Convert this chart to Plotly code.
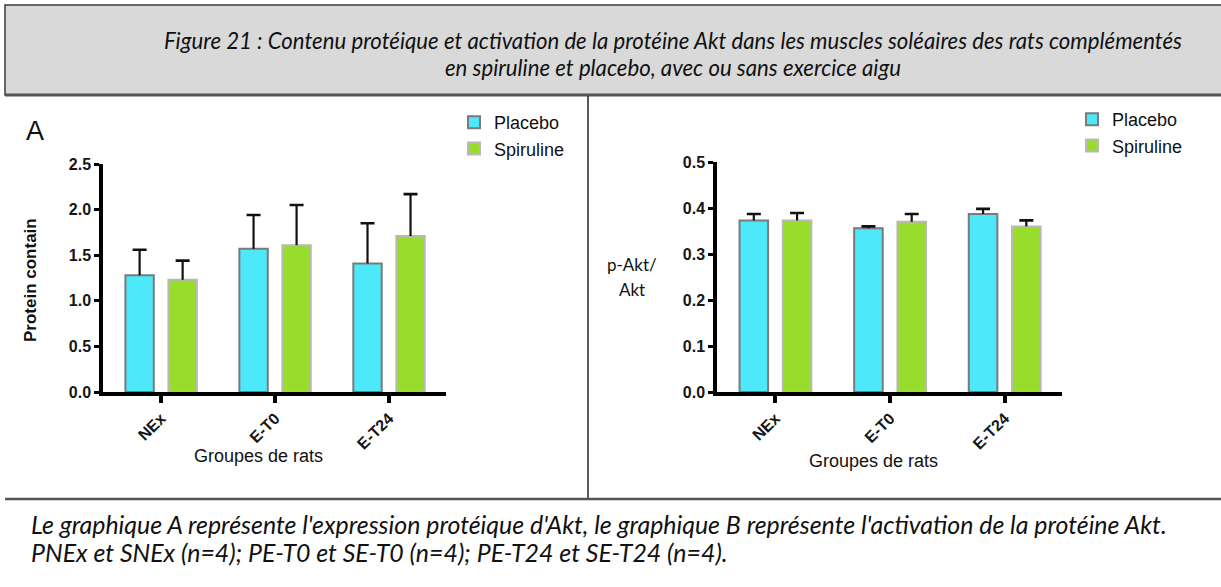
import plotly.graph_objects as go

W, H = 1221, 587

groups = ["NEx", "E-T0", "E-T24"]
series = ["Placebo", "Spiruline"]

# Graph A: Akt protein content
a_placebo = [1.28, 1.57, 1.41]
a_placebo_err = [0.28, 0.37, 0.44]
a_spiruline = [1.23, 1.61, 1.71]
a_spiruline_err = [0.21, 0.44, 0.46]

# Graph B: p-Akt / Akt
b_placebo = [0.373, 0.356, 0.387]
b_placebo_err = [0.014, 0.004, 0.011]
b_spiruline = [0.373, 0.370, 0.360]
b_spiruline_err = [0.016, 0.017, 0.013]

a_ticks = [0.0, 0.5, 1.0, 1.5, 2.0, 2.5]
b_ticks = [0.0, 0.1, 0.2, 0.3, 0.4, 0.5]

title_lines = [
    "Figure 21 : Contenu protéique et activation de la protéine Akt dans les muscles soléaires des rats complémentés",
    "en spiruline et placebo, avec ou sans exercice aigu",
]
caption_lines = [
    "Le graphique A représente l'expression protéique d'Akt, le graphique B représente l'activation de la protéine Akt.",
    "PNEx et SNEx (n=4); PE-T0 et SE-T0 (n=4); PE-T24 et SE-T24 (n=4).",
]

CYAN = "#4de9fb"
GREEN = "#98dc2c"
CYAN_LINE = "#7a7a7a"
GREEN_LINE = "#b8b8b8"
SANS = "Liberation Sans, Arial, sans-serif"
HUM = "Lato, Open Sans, sans-serif"


def px(x):
    return x / W


def py(y):
    return 1 - y / H


fig = go.Figure()


def add_bars(vals, errs, name, color, lcolor, xa, ya, legend, group):
    # main bar with the error stem (no caps)
    fig.add_trace(go.Bar(
        x=groups, y=vals, name=name, xaxis=xa, yaxis=ya, legend=legend,
        offsetgroup=group,
        marker=dict(color=color, line=dict(color=lcolor, width=2)),
        error_y=dict(type="data", symmetric=False, array=errs,
                     arrayminus=[0] * len(errs), color="#111111",
                     thickness=2.2, width=0),
    ))
    # invisible companion bar carrying only the top cap of the error bar
    tops = [v + e for v, e in zip(vals, errs)]
    fig.add_trace(go.Bar(
        x=groups, y=tops, name=name, xaxis=xa, yaxis=ya, legend=legend,
        offsetgroup=group, showlegend=False, hoverinfo="skip",
        marker=dict(color="rgba(0,0,0,0)", line=dict(width=0)),
        error_y=dict(type="data", symmetric=False, array=[0] * len(errs),
                     arrayminus=[0] * len(errs), color="#111111",
                     thickness=2.6, width=7),
    ))


add_bars(a_placebo, a_placebo_err, series[0], CYAN, CYAN_LINE, "x", "y", "legend", "pa")
add_bars(a_spiruline, a_spiruline_err, series[1], GREEN, GREEN_LINE, "x", "y", "legend", "sa")
add_bars(b_placebo, b_placebo_err, series[0], CYAN, CYAN_LINE, "x2", "y2", "legend2", "pb")
add_bars(b_spiruline, b_spiruline_err, series[1], GREEN, GREEN_LINE, "x2", "y2", "legend2", "sb")

tickfont = dict(family=SANS, size=16, color="#161616", weight="bold")

xcommon = dict(type="category", range=[-0.51, 2.5], showline=True, linecolor="#000",
               linewidth=3.5, ticks="outside", ticklen=7, tickwidth=3.5,
               tickcolor="#000", tickangle=-45, tickfont=tickfont, automargin=False,
               showgrid=False, zeroline=False, fixedrange=True)
ycommon = dict(showline=True, linecolor="#000", linewidth=3.5, ticks="outside",
               ticklen=5, tickwidth=3, tickcolor="#000", tickfont=tickfont,
               automargin=False, showgrid=False, zeroline=False, tickformat=".1f",
               fixedrange=True)

fig.update_layout(
    width=W, height=H, margin=dict(l=0, r=0, t=0, b=0, autoexpand=False),
    paper_bgcolor="white", plot_bgcolor="rgba(0,0,0,0)",
    barmode="group", bargap=0.245, bargroupgap=0.34,
    xaxis=dict(domain=[px(103), px(446)], anchor="y", **xcommon),
    yaxis=dict(domain=[py(392), py(164)], anchor="x", range=[0, 2.5],
               tickvals=a_ticks, **ycommon),
    xaxis2=dict(domain=[px(717), px(1062)], anchor="y2", **xcommon),
    yaxis2=dict(domain=[py(392), py(162)], anchor="x2", range=[0, 0.5],
                tickvals=b_ticks, **ycommon),
    legend=dict(x=px(454), y=py(104), xanchor="left", yanchor="top",
                font=dict(family=SANS, size=18, color="#111"),
                bgcolor="rgba(0,0,0,0)", tracegroupgap=4),
    legend2=dict(x=px(1072), y=py(101), xanchor="left", yanchor="top",
                 font=dict(family=SANS, size=18, color="#111"),
                 bgcolor="rgba(0,0,0,0)", tracegroupgap=4),
    showlegend=True,
)

shapes = [
    # title box
    dict(type="rect", xref="paper", yref="paper", x0=px(5), x1=px(1230), y0=py(95), y1=py(5),
         fillcolor="#d9d9d9", line=dict(color="#3a3a3a", width=1.5), layer="below"),
    dict(type="line", xref="paper", yref="paper", x0=px(5), x1=px(1221), y0=py(95), y1=py(95),
         line=dict(color="#555555", width=3)),
    # vertical separator
    dict(type="line", xref="paper", yref="paper", x0=px(588), x1=px(588), y0=py(96), y1=py(499),
         line=dict(color="#222222", width=1.5)),
    # horizontal separator
    dict(type="line", xref="paper", yref="paper", x0=px(5), x1=px(1221), y0=py(499), y1=py(499),
         line=dict(color="#555555", width=2.5)),
]
fig.update_layout(shapes=shapes)

ann = []
for i, line in enumerate(title_lines):
    ann.append(dict(text="<i>" + line + "</i>", x=px(673), y=py([41, 68][i]), xref="paper",
                    yref="paper", xanchor="center", yanchor="middle", showarrow=False,
                    font=dict(family=HUM, size=22.2, color="#111")))
for i, line in enumerate(caption_lines):
    ann.append(dict(text="<i>" + line + "</i>", x=px(29), y=py([524, 552][i]), xref="paper",
                    yref="paper", xanchor="left", yanchor="middle", showarrow=False,
                    font=dict(family=HUM, size=24.9, color="#111")))
ann += [
    dict(text="A", x=px(35), y=py(131), xref="paper", yref="paper", showarrow=False,
         xanchor="center", yanchor="middle", font=dict(family=SANS, size=27, color="#111")),
    dict(text="Protein contain", x=px(31), y=py(280), xref="paper", yref="paper",
         showarrow=False, textangle=-90, xanchor="center", yanchor="middle",
         font=dict(family=SANS, size=17, color="#111", weight="bold")),
    dict(text="Groupes de rats", x=px(258), y=py(456), xref="paper", yref="paper",
         showarrow=False, xanchor="center", yanchor="middle",
         font=dict(family=SANS, size=18, color="#111")),
    dict(text="Groupes de rats", x=px(873), y=py(461), xref="paper", yref="paper",
         showarrow=False, xanchor="center", yanchor="middle",
         font=dict(family=SANS, size=18, color="#111")),
    dict(text="p-Akt/", x=px(632), y=py(264), xref="paper", yref="paper",
         showarrow=False, xanchor="center", yanchor="middle",
         font=dict(family=HUM, size=17, color="#111")),
    dict(text="Akt", x=px(632), y=py(290), xref="paper", yref="paper",
         showarrow=False, xanchor="center", yanchor="middle",
         font=dict(family=HUM, size=17, color="#111")),
]
fig.update_layout(annotations=ann)

fig.write_html("out.html", config={"displayModeBar": False},
               post_script="document.body.style.margin='0';")
